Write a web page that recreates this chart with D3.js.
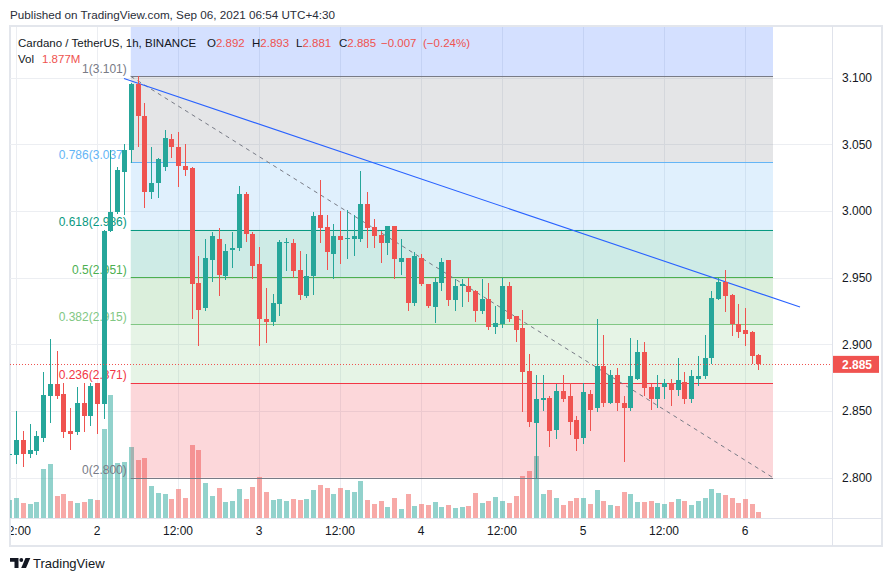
<!DOCTYPE html>
<html><head><meta charset="utf-8">
<script src="https://cdn.jsdelivr.net/npm/d3@7"></script>
<style>
body{margin:0;background:#fff;}
svg{display:block;font-family:"Liberation Sans",Arial,sans-serif;}
</style></head><body>
<svg id="c" width="892" height="581"></svg>
<script>
// ---- DATA (hour index relative to 2021-09-02 00:00, first candle = -13) ----
const firstHour = -13;
const opens = [
 2.817,2.817,2.828,2.818,2.820,2.830,2.861,2.870,2.863,2.835,2.834,2.856,2.846,2.871,
 2.855,2.985,2.999,3.029,3.046,3.095,3.071,3.014,3.021,3.033,
 3.054,3.048,3.034,3.032,2.946,2.927,2.963,2.979,2.951,2.971,
 2.972,3.013,2.983,2.960,2.919,2.917,2.930,2.976,2.976,2.956,
 2.936,2.951,2.997,2.988,2.968,2.981,2.979,2.979,2.979,3.005,
 2.988,2.982,2.976,2.989,2.962,2.965,2.931,2.965,2.945,2.928,
 2.946,2.963,2.933,2.944,2.944,2.940,2.925,2.934,2.913,2.915,
 2.944,2.921,2.912,2.880,2.841,2.858,2.860,2.836,2.865,2.861,
 2.843,2.830,2.863,2.852,2.884,2.856,2.877,2.856,2.852,2.874,
 2.894,2.868,2.859,2.868,2.871,2.866,2.872,2.859,2.874,2.876,
 2.890,2.934,2.947,2.937,2.915,2.911,2.909,2.892];
const highs = [
 2.819,2.850,2.835,2.840,2.835,2.879,2.904,2.895,2.871,2.852,2.868,2.871,2.871,2.871,
 2.986,3.046,3.033,3.050,3.096,3.101,3.081,3.048,3.040,3.061,
 3.058,3.059,3.050,3.033,2.966,2.979,2.984,2.987,2.975,2.984,
 3.019,3.014,2.984,2.973,2.942,2.938,2.978,2.980,2.979,2.970,
 2.968,2.999,3.023,2.997,2.990,3.000,3.001,2.997,3.030,3.014,
 2.994,2.985,2.989,2.989,2.979,2.965,2.969,2.968,2.945,2.950,
 2.965,2.963,2.949,2.949,2.950,2.941,2.949,2.946,2.929,2.950,
 2.947,2.921,2.926,2.893,2.877,2.877,2.861,2.870,2.877,2.871,
 2.846,2.871,2.866,2.919,2.907,2.881,2.882,2.861,2.905,2.903,
 2.902,2.870,2.877,2.874,2.874,2.890,2.879,2.881,2.891,2.907,
 2.940,2.950,2.956,2.938,2.930,2.927,2.910,2.893];
const lows = [
 2.815,2.810,2.808,2.815,2.817,2.827,2.841,2.859,2.830,2.821,2.832,2.834,2.839,2.833,
 2.844,2.984,2.998,2.997,3.036,3.048,3.002,3.009,3.010,3.030,
 3.040,3.018,3.026,2.919,2.899,2.925,2.947,2.936,2.948,2.957,
 2.970,2.977,2.949,2.899,2.901,2.914,2.921,2.955,2.950,2.933,
 2.935,2.937,2.976,2.956,2.949,2.960,2.964,2.966,2.977,2.972,
 2.972,2.961,2.967,2.949,2.952,2.925,2.929,2.944,2.927,2.916,
 2.940,2.929,2.925,2.928,2.932,2.917,2.923,2.911,2.908,2.912,
 2.917,2.902,2.849,2.838,2.799,2.850,2.823,2.829,2.857,2.832,
 2.820,2.825,2.835,2.849,2.853,2.855,2.850,2.812,2.850,2.873,
 2.861,2.851,2.852,2.859,2.854,2.861,2.855,2.856,2.869,2.874,
 2.885,2.933,2.924,2.906,2.905,2.899,2.885,2.881];
const closes = [
 2.818,2.828,2.818,2.821,2.831,2.862,2.870,2.861,2.834,2.833,2.856,2.846,2.869,2.855,
 2.985,2.999,3.031,3.046,3.095,3.071,3.014,3.021,3.039,3.055,
 3.048,3.034,3.031,2.945,2.926,2.965,2.981,2.952,2.970,2.972,
 3.013,2.983,2.959,2.919,2.917,2.931,2.977,2.977,2.955,2.937,
 2.951,2.996,2.987,2.969,2.981,2.978,2.980,2.981,3.005,2.987,
 2.981,2.976,2.989,2.964,2.965,2.931,2.966,2.945,2.929,2.947,
 2.962,2.933,2.944,2.945,2.939,2.925,2.934,2.913,2.916,2.944,
 2.919,2.911,2.879,2.842,2.859,2.860,2.835,2.865,2.859,2.842,
 2.829,2.864,2.851,2.884,2.856,2.877,2.856,2.852,2.876,2.894,
 2.867,2.859,2.868,2.871,2.866,2.873,2.859,2.876,2.876,2.890,
 2.935,2.947,2.936,2.915,2.909,2.908,2.891,2.885];
const volumes = [ // millions
 5.6,6.1,4.7,4.3,5.0,15.2,16.7,6.8,7.4,5.3,4.7,5.0,5.9,5.6,
 27.6,38.1,17.1,17.4,22.0,18.0,18.6,9.9,7.8,7.4,
 5.9,9.0,6.2,22.6,21.1,10.9,6.8,9.3,5.0,5.3,
 9.0,5.9,9.6,12.7,8.1,5.6,5.9,5.3,5.9,5.6,
 5.9,8.7,10.2,9.3,7.4,9.3,8.7,8.1,11.5,5.6,
 4.3,5.3,3.4,6.2,2.8,7.4,3.7,4.3,4.0,5.0,
 3.4,4.0,3.1,3.4,3.7,7.8,4.7,5.3,6.5,5.3,
 4.7,6.8,13.0,14.6,19.2,7.4,8.7,6.2,4.0,5.3,
 6.2,6.2,4.3,8.7,5.3,4.0,3.7,8.1,7.4,5.0,
 5.0,5.3,4.7,4.3,5.0,5.9,5.3,4.0,5.3,6.2,
 9.0,7.8,7.1,6.2,4.7,5.9,4.3,1.877];

const priceTicks = [2.80, 2.85, 2.90, 2.95, 3.00, 3.05, 3.10];
const timeTickHours = [-12, 0, 12, 24, 36, 48, 60, 72, 84, 96];
const timeTickLabels = ["12:00", "2", "12:00", "3", "12:00", "4", "12:00", "5", "12:00", "6"];

const fibLevels = [1.618, 1, 0.786, 0.618, 0.5, 0.382, 0.236, 0];
const fibColors = ["#2962ff", "#787b86", "#64b5f6", "#089981", "#4caf50", "#81c784", "#f23645", "#787b86"];
const fibLow = 2.800, fibHigh = 3.101;
const fibStartHour = 5, fibEndHour = 100.15;
const trendBlue = [{h: 4, p: 3.0994}, {h: 104.15, p: 2.928}];
const lastClose = 2.885;
const changeText = "\u22120.007", changePctText = "(\u22120.24%)";

// ---- LAYOUT ----
const paneL = 10, paneR = 832, paneT = 27, paneB = 518, axisB = 546, frameR = 882;
const UP = "#26a69a", DOWN = "#ef5350";

const x = d3.scaleLinear().domain([0, 96]).range([97, 745]);
const y = d3.scaleLinear().domain([2.8, 3.1]).range([477.7, 77.7]);
const yv = d3.scaleLinear().domain([0, 40]).range([paneB, paneB - 129]);

const candles = opens.map((o, k) => ({h: firstHour + k, o, hi: highs[k], lo: lows[k], c: closes[k], v: volumes[k]}));

const svg = d3.select("#c");
svg.append("defs").append("clipPath").attr("id", "pane")
  .append("rect").attr("x", paneL).attr("y", paneT).attr("width", paneR - paneL).attr("height", paneB - paneT);

// header
svg.append("text").attr("x", 10).attr("y", 19).attr("font-size", 11.7).attr("fill", "#2a2e39")
  .text("Published on TradingView.com, Sep 06, 2021 06:54 UTC+4:30");

// frame
svg.append("rect").attr("x", 10).attr("y", 26).attr("width", frameR - 10).attr("height", axisB - 26)
  .attr("fill", "#fff").attr("stroke", "#e3e6ec").attr("stroke-width", 2);

const pane = svg.append("g").attr("clip-path", "url(#pane)");

// grid
pane.append("g").selectAll("line").data(priceTicks).join("line")
  .attr("x1", paneL).attr("x2", paneR)
  .attr("y1", d => Math.round(y(d)) + 0.5).attr("y2", d => Math.round(y(d)) + 0.5)
  .attr("stroke", "#eceef2");
pane.append("g").selectAll("line").data(timeTickHours).join("line")
  .attr("y1", paneT).attr("y2", paneB)
  .attr("x1", d => Math.round(x(d)) + 0.5).attr("x2", d => Math.round(x(d)) + 0.5)
  .attr("stroke", "#eceef2");

// volume
const cx = d => Math.round(x(d.h));
pane.append("g").selectAll("rect").data(candles).join("rect")
  .attr("x", d => cx(d) - 2).attr("width", 5)
  .attr("y", d => yv(d.v)).attr("height", d => paneB - yv(d.v))
  .attr("fill", d => d.c >= d.o ? UP : DOWN).attr("fill-opacity", 0.5)
  .attr("shape-rendering", "crispEdges");

// fib
const fibPrice = l => fibLow + l * (fibHigh - fibLow);
const fx1 = x(fibStartHour), fx2 = x(fibEndHour);
const fib = pane.append("g");
for (let k = 0; k < fibLevels.length - 1; k++) {
  const yt = Math.max(paneT, y(fibPrice(fibLevels[k]))), yb = y(fibPrice(fibLevels[k + 1]));
  fib.append("rect").attr("x", fx1).attr("width", fx2 - fx1)
    .attr("y", yt).attr("height", yb - yt).attr("fill", fibColors[k]).attr("fill-opacity", 0.2);
}
const fibLab = svg.append("g");
fibLevels.forEach((l, k) => {
  const py = y(fibPrice(l));
  if (py < paneT) return; // level is above the visible pane
  const yy = Math.round(py) + 0.5;
  fib.append("line").attr("x1", fx1).attr("x2", fx2).attr("y1", yy).attr("y2", yy)
    .attr("stroke", fibColors[k]).attr("stroke-width", 1);
  fib.append("text").attr("x", fx1 - 4).attr("y", py - 3.5)
    .attr("text-anchor", "end").attr("font-size", 12).attr("fill", fibColors[k])
    .text(`${l}(${(fibPrice(l) + 1e-9).toFixed(3)})`);
});

// fib diagonal (dashed)
pane.append("line")
  .attr("x1", x(fibStartHour)).attr("y1", y(fibHigh)).attr("x2", x(fibEndHour)).attr("y2", y(fibLow))
  .attr("stroke", "#787b86").attr("stroke-dasharray", "4,4").attr("stroke-width", 1);

// trend line
pane.append("line")
  .attr("x1", x(trendBlue[0].h)).attr("y1", y(trendBlue[0].p))
  .attr("x2", x(trendBlue[1].h)).attr("y2", y(trendBlue[1].p))
  .attr("stroke", "#2962ff").attr("stroke-width", 1.1);

// candles
const cg = pane.append("g").attr("shape-rendering", "crispEdges");
cg.selectAll("rect.w").data(candles).join("rect").attr("class", "w")
  .attr("x", d => cx(d)).attr("width", 1)
  .attr("y", d => y(d.hi)).attr("height", d => Math.max(1, y(d.lo) - y(d.hi)))
  .attr("fill", d => d.c >= d.o ? UP : DOWN);
cg.selectAll("rect.b").data(candles).join("rect").attr("class", "b")
  .attr("x", d => cx(d) - 2).attr("width", 5)
  .attr("y", d => y(Math.max(d.o, d.c)))
  .attr("height", d => Math.max(1.5, Math.abs(y(d.o) - y(d.c))))
  .attr("fill", d => d.c >= d.o ? UP : DOWN);

// price line
pane.append("line").attr("x1", paneL).attr("x2", paneR)
  .attr("y1", Math.round(y(lastClose)) + 0.5).attr("y2", Math.round(y(lastClose)) + 0.5)
  .attr("stroke", DOWN).attr("stroke-dasharray", "1,2");

// separators
svg.append("line").attr("x1", paneR + 0.5).attr("x2", paneR + 0.5).attr("y1", 26).attr("y2", axisB)
  .attr("stroke", "#e0e3eb");
svg.append("line").attr("x1", 10).attr("x2", frameR).attr("y1", paneB + 0.5).attr("y2", paneB + 0.5)
  .attr("stroke", "#e0e3eb");

// price axis
svg.append("g").selectAll("text").data(priceTicks).join("text")
  .attr("x", 842).attr("y", d => y(d) + 4.3).attr("font-size", 12).attr("fill", "#131722")
  .text(d => d.toFixed(3));
svg.append("rect").attr("x", paneR + 1).attr("y", y(lastClose) - 8.5).attr("width", 46).attr("height", 17)
  .attr("fill", "#f05350");
svg.append("text").attr("x", 842).attr("y", y(lastClose) + 4.3).attr("font-size", 12)
  .attr("fill", "#fff").attr("font-weight", "bold").text(lastClose.toFixed(3));

// time axis
const tg = svg.append("g");
tg.append("defs").append("clipPath").attr("id", "taxis").append("rect")
  .attr("x", 11).attr("y", paneB).attr("width", paneR - 11).attr("height", 28);
tg.append("g").attr("clip-path", "url(#taxis)").selectAll("text").data(timeTickHours).join("text")
  .attr("x", d => x(d)).attr("y", 535).attr("text-anchor", "middle").attr("font-size", 12).attr("fill", "#131722")
  .text((d, k) => timeTickLabels[k]);

// legend
const lg = svg.append("g").attr("font-size", 11.5);
lg.append("text").attr("x", 18).attr("y", 47).attr("fill", "#131722").text("Cardano / TetherUS, 1h, BINANCE");
const ohlc = [["O", opens[opens.length - 1], 207], ["H", highs[highs.length - 1], 252], ["L", lows[lows.length - 1], 296], ["C", closes[closes.length - 1], 339]];
ohlc.forEach(([k, v, px]) => {
  const t = lg.append("text").attr("x", px).attr("y", 47);
  t.append("tspan").attr("fill", "#131722").text(k);
  t.append("tspan").attr("fill", DOWN).text(v.toFixed(3));
});
lg.append("text").attr("x", 381).attr("y", 47).attr("fill", DOWN).text(changeText);
lg.append("text").attr("x", 423).attr("y", 47).attr("fill", DOWN).text(changePctText);
lg.append("text").attr("x", 18).attr("y", 63).attr("fill", "#131722").text("Vol");
lg.append("text").attr("x", 42).attr("y", 63).attr("fill", DOWN).text(volumes[volumes.length - 1].toFixed(3) + "M");

// TradingView logo
const logo = svg.append("g").attr("fill", "#131722");
logo.append("path").attr("d", "M10 558h8.5v10h-4v-6.3h-4.5z");
logo.append("circle").attr("cx", 21.3).attr("cy", 560).attr("r", 1.9);
logo.append("path").attr("d", "M25.5 558h4.8l-4.3 10h-4.8z");
svg.append("text").attr("x", 33).attr("y", 568).attr("font-size", 13).attr("fill", "#131722").text("TradingView");
</script>
</body></html>
